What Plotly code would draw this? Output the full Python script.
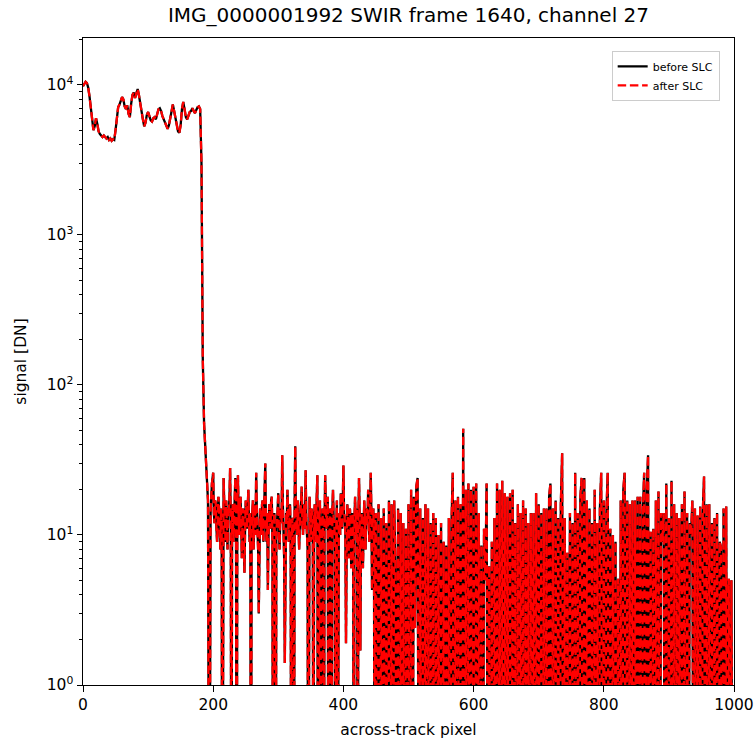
import numpy as np
import plotly.graph_objects as go

# across-track pixel
pixel_0_198 = list(range(0, 200, 2))      # smooth bright part, every 2nd pixel
pixel_200_449 = list(range(200, 450))     # every pixel
pixel_450_998 = list(range(450, 1000, 2)) # every 2nd pixel

# signal [DN]; 0 = non-positive (clipped on the log axis)
signal_0_198 = [
    9800, 10200, 10500, 10300, 9600, 8400, 6900, 5700, 5000, 5300,
    6000, 5500, 4900, 4700, 4600, 4500, 4600, 4450, 4400, 4500,
    4300, 4400, 4250, 4350, 4300, 5000, 6200, 7100, 7400, 7900,
    8300, 8000, 7200, 6900, 7300, 6400, 6100, 7500, 8600, 8900,
    8200, 8800, 9400, 8500, 7400, 6800, 5900, 5300, 5600, 6300,
    6600, 6200, 5800, 5700, 6000, 6100, 5900, 6400, 6900, 7000,
    6700, 6200, 5900, 5500, 5200, 5100, 5400, 6000, 6900, 7400,
    6700, 5900, 5300, 4900, 4800, 5400, 6900, 7700, 6900, 6100,
    5900, 6300, 6600, 6700, 7000, 6700, 6500, 6800, 7100, 7200,
    6900, 3000, 150, 55, 36, 28, 17, 0, 14, 22,
]
signal_200_449 = [
    26, 14, 12, 17, 16, 11, 9, 13, 18, 15, 11, 8, 15, 12, 0, 10, 24, 16, 13, 9,
    17, 12, 8, 15, 14, 18, 28, 11, 0, 13, 16, 9, 12, 14, 24, 17, 0, 12, 25, 14,
    10, 16, 18, 12, 7, 13, 15, 9, 5.6, 11, 17, 14, 11, 15, 20, 12, 9, 14, 0, 11,
    14, 17, 8, 12, 16, 10, 26, 15, 12, 8, 3, 11, 15, 13, 10, 16, 17, 9, 13, 15,
    30, 12, 9, 14, 4.3, 10, 16, 13, 11, 17, 18, 9, 0, 12, 14, 8, 0, 11, 12, 15,
    19, 10, 8, 13, 15, 12, 34, 16, 11, 7, 1.4, 9, 14, 12, 20, 15, 9, 13, 16, 10,
    0, 12, 13, 9, 0, 15, 39, 14, 12, 10, 17, 13, 8, 11, 15, 17, 21, 12, 10, 14,
    16, 11, 27, 13, 11, 8, 0, 14, 18, 12, 9, 15, 14, 10, 0, 13, 16, 9, 12, 15,
    25, 0, 10, 12, 17, 0, 7, 14, 15, 9, 0, 12, 25, 16, 11, 13, 18, 0, 6, 12,
    15, 0, 0, 14, 20, 13, 12, 9, 0, 11, 17, 0, 9, 12, 14, 10, 19, 13, 11, 16,
    29, 14, 13, 10, 1.9, 8, 16, 12, 7, 11, 15, 13, 6, 9, 14, 12, 0, 13, 18, 11,
    10, 15, 0, 12, 24, 13, 1.7, 9, 14, 11, 6, 10, 17, 13, 8, 14, 15, 12, 20, 11,
    9, 13, 26, 14, 4.3, 12, 15, 9, 0, 13,
]
signal_450_698 = [
    14, 0, 16, 0, 13, 0, 15, 0, 12, 0,
    17, 0, 16, 0, 17, 6, 0, 15, 0, 14,
    0, 12, 0, 11, 0, 16, 0, 20, 0, 18,
    2.4, 21, 24, 0, 15, 0, 13, 0, 16, 0,
    15, 0, 12, 0, 14, 0, 13, 0, 10, 0,
    12, 0, 9, 0, 8.5, 0, 13, 0, 12, 26,
    0, 17, 0, 18, 0, 16, 0, 51, 0, 20,
    0, 22, 0, 20, 0, 21, 0, 22, 0, 14,
    0, 8.5, 0, 11, 5, 22, 0, 6.2, 0, 9,
    0, 13, 0, 22, 0, 20, 0, 23, 0, 19,
    0, 18, 0, 19, 0, 20, 0, 12, 0, 16,
    0, 14, 0, 17, 0, 15, 0, 12, 0, 14,
    0, 14, 0, 19, 0,
]
signal_700_998 = [
    16, 0, 14, 0, 15, 0, 15, 0, 18, 22,
    0, 15, 0, 17, 0, 13, 0, 16, 35, 0,
    13, 0, 7.6, 0, 14, 0, 12, 0, 26, 0,
    14, 0, 18, 24, 0, 24, 0, 17, 0, 15,
    0, 12, 0, 20, 0, 12, 0, 15, 26, 0,
    17, 0, 14, 26, 0, 11, 0, 10, 0, 9,
    0, 5.1, 0, 17, 0, 20, 26, 0, 17, 0,
    16, 0, 17, 0, 17, 0, 18, 0, 18, 0,
    14, 26, 0, 20, 34, 0, 10.5, 0, 11, 0,
    17, 0, 19.5, 0, 14, 9, 14, 0, 22, 0,
    13, 0, 23, 0, 16, 0, 14, 0, 13, 0,
    16, 0, 19.5, 0, 14, 0, 12, 10, 17, 0,
    15, 0, 13.5, 0, 15.5, 0, 14, 24.5, 0, 16,
    0, 16, 0, 12, 0, 13, 0, 14, 0, 9,
    8.3, 0, 15, 0, 15.5, 0, 5.1, 0, 5, 0,
]

pixel = pixel_0_198 + pixel_200_449 + pixel_450_998
before_slc = signal_0_198 + signal_200_449 + signal_450_698 + signal_700_998
after_slc = list(before_slc)  # identical to the eye after straylight correction

x_ticks = [0, 200, 400, 600, 800, 1000]
y_ticks = [1, 10, 100, 1000, 10000]
y_ticktext = ["10<sup>0</sup>", "10<sup>1</sup>", "10<sup>2</sup>", "10<sup>3</sup>", "10<sup>4</sup>"]
y_minor = [m * 10 ** k for k in range(0, 5) for m in range(2, 10)]

CLIP = 1e-2  # non-positive values are clipped, as on a matplotlib log axis
before_plot = np.clip(np.array(before_slc, dtype=float), CLIP, None)
after_plot = np.clip(np.array(after_slc, dtype=float), CLIP, None)

font = "DejaVu Sans"
L, R, T, B = 83, 21, 38, 54

fig = go.Figure()
fig.add_trace(go.Scatter(
    x=pixel, y=before_plot, mode="lines", name="before SLC",
    line=dict(color="black", width=2.3),
))
fig.add_trace(go.Scatter(
    x=pixel, y=after_plot, mode="lines", name="after SLC",
    line=dict(color="red", width=2.3, dash="8.5px,3.7px"),
))

fig.update_layout(
    width=755, height=739,
    margin=dict(l=L, r=R, t=T, b=B, autoexpand=False),
    paper_bgcolor="white", plot_bgcolor="white",
    font=dict(family=font, size=15.5, color="black"),
    title=dict(text="IMG_0000001992 SWIR frame 1640, channel 27",
               x=(L + 755 - R) / 2 / 755, xanchor="center",
               y=1 - 15 / 739, yanchor="middle",
               font=dict(size=20, family=font, color="black")),
    showlegend=True,
    legend=dict(x=0.978, xanchor="right", y=0.98, yanchor="top",
                bgcolor="rgba(255,255,255,0.8)", bordercolor="#cccccc", borderwidth=1,
                font=dict(size=11, family=font, color="black"),
                itemwidth=30, tracegroupgap=0),
)
fig.update_xaxes(
    range=[0, 1000], tickvals=x_ticks, ticks="outside", ticklen=5.5, tickwidth=1,
    tickcolor="black", showline=True, linecolor="black", linewidth=1, mirror=True,
    showgrid=False, zeroline=False, automargin=False,
    tickfont=dict(size=15.5, family=font),
    title=dict(text="across-track pixel", font=dict(size=15.5, family=font), standoff=11),
)
fig.update_yaxes(
    type="log", range=[0, 4.313], tickvals=y_ticks, ticktext=y_ticktext,
    ticks="outside", ticklen=5.5, tickwidth=1, tickcolor="black",
    minor=dict(tickvals=y_minor, ticks="outside", ticklen=3, tickwidth=0.8,
               tickcolor="black", showgrid=False),
    showline=True, linecolor="black", linewidth=1, mirror=True,
    showgrid=False, zeroline=False, automargin=False,
    tickfont=dict(size=15.5, family=font),
    title=dict(text="signal [DN]", font=dict(size=15.5, family=font), standoff=16),
)

fig.write_html("out.html")
